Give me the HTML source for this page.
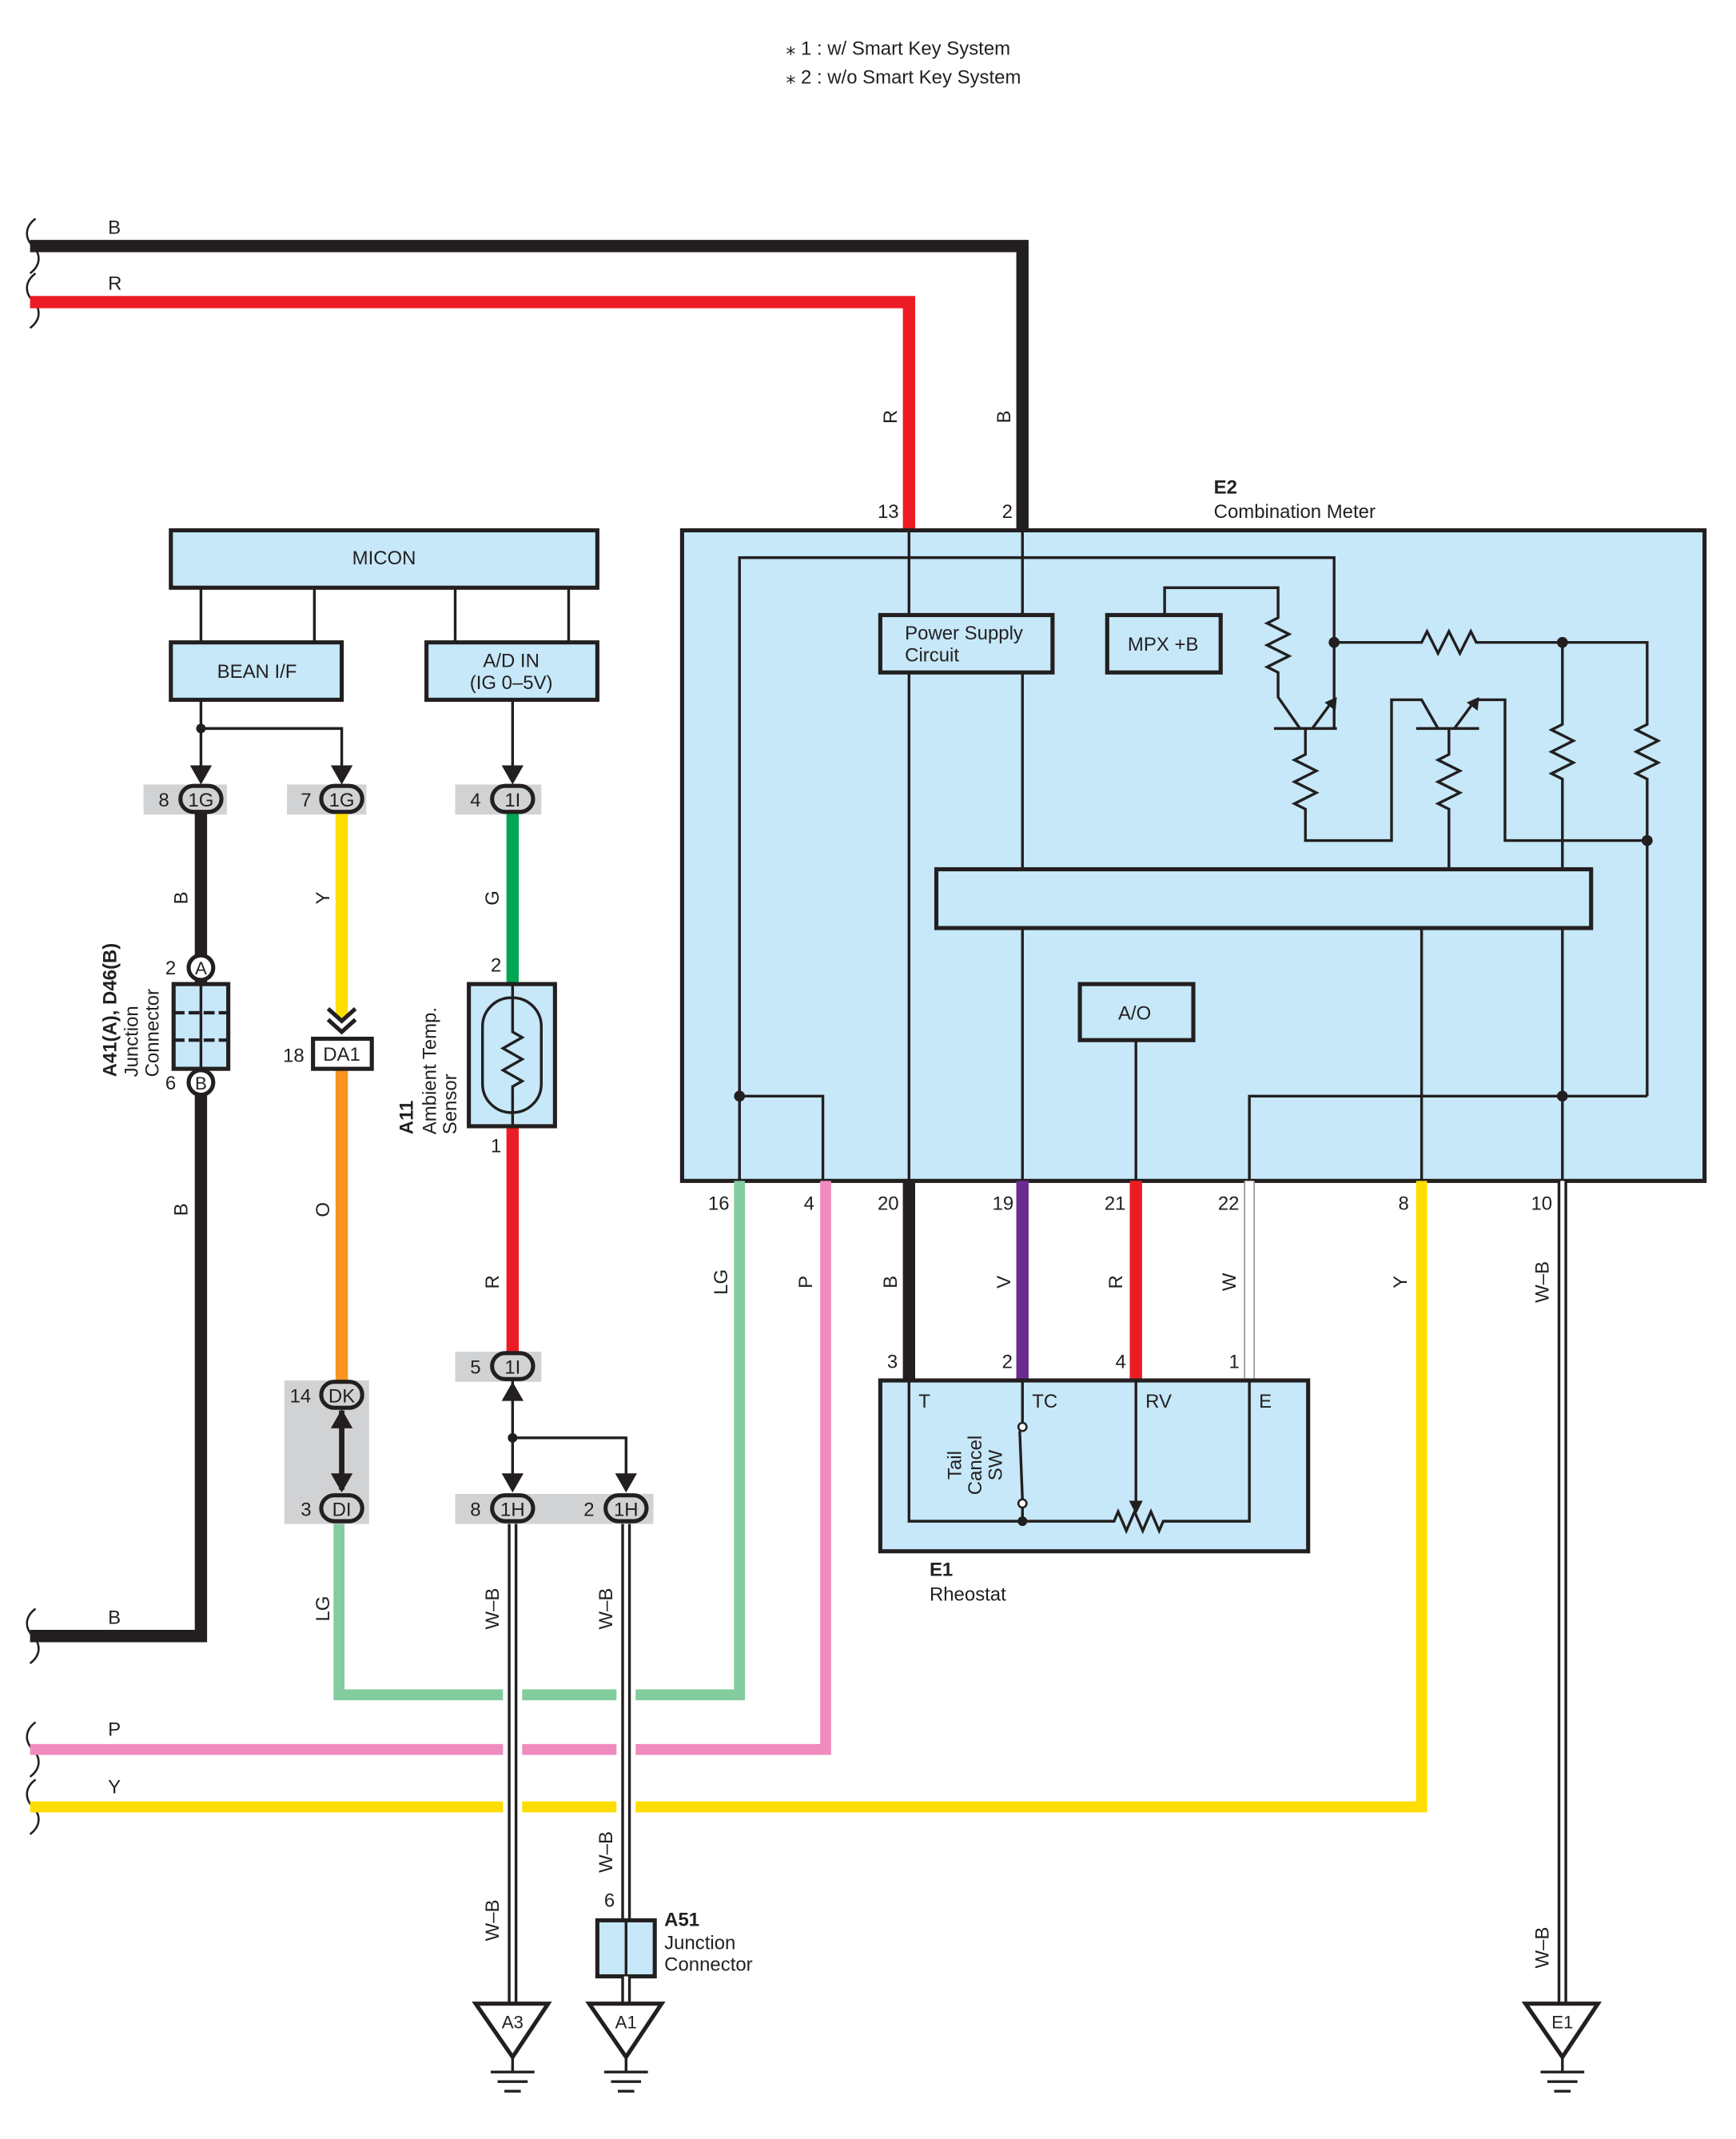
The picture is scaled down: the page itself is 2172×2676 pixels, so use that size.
<!DOCTYPE html>
<html><head><meta charset="utf-8"><style>
html,body{margin:0;padding:0;background:#fff;}
svg{display:block;}
text{font-family:"Liberation Sans",sans-serif;fill:#231f20;}
</style></head><body>
<svg width="2172" height="2676" viewBox="0 0 1270 1565" preserveAspectRatio="none" xmlns="http://www.w3.org/2000/svg">
<g font-size="14">
<text x="575" y="40">⁎ 1 : w/ Smart Key System</text>
<text x="575" y="61">⁎ 2 : w/o Smart Key System</text>
</g>
<g fill="none" stroke="#231f20" stroke-width="1.5">
<path d="M26,160 c-8,6 -8,14 -2,20 c6,6 6,14 -2,20"/>
<path d="M26,200 c-8,6 -8,14 -2,20 c6,6 6,14 -2,20"/>
<path d="M26,1177 c-8,6 -8,14 -2,20 c6,6 6,14 -2,20"/>
<path d="M26,1260 c-8,6 -8,14 -2,20 c6,6 6,14 -2,20"/>
<path d="M26,1302 c-8,6 -8,14 -2,20 c6,6 6,14 -2,20"/>
</g>
<g fill="none" stroke-linejoin="miter">
<path d="M22,180 H748 V388" stroke="#231f20" stroke-width="9"/>
<path d="M22,221 H665 V388" stroke="#ed1c24" stroke-width="9"/>
</g>
<g font-size="14">
<text x="79" y="171">B</text><text x="79" y="212">R</text>
<text x="79" y="1188">B</text><text x="79" y="1270">P</text><text x="79" y="1312">Y</text>
<text x="642" y="379">13</text><text x="733" y="379">2</text>
<text x="888" y="361" font-weight="bold">E2</text><text x="888" y="379">Combination Meter</text>
</g>
<rect x="499" y="388" width="748" height="476" fill="#c6e8f8" stroke="#231f20" stroke-width="3"/>
<g fill="none" stroke="#231f20" stroke-width="2">
<path d="M665,388 V864"/><path d="M748,388 V864"/>
<path d="M541,864 V408 H976 V533"/>
<path d="M852,450 V430 H935 V452 l-8,4 l16,8 l-16,8 l16,8 l-16,8 l8,4 V510 L951,533"/>
<path d="M932,533 H978"/>
<path d="M960,533 L974,514"/>
<path d="M955,533 V552 l-8,4 l16,8 l-16,8 l16,8 l-16,8 l8,4 V615 H1018 V512 H1040 L1052,533"/>
<path d="M1036,533 H1082"/>
<path d="M1064,533 L1078,514"/>
<path d="M1080,512 H1101 V615 H1205"/>
<path d="M1060,533 V552 l-8,4 l16,8 l-16,8 l16,8 l-16,8 l8,4 V636"/>
<path d="M976,470 H1040 l4,-8 l8,16 l8,-16 l8,16 l8,-16 l4,8 H1205 V530 l-8,4 l16,8 l-16,8 l16,8 l-16,8 l8,4 V802"/>
<path d="M1143,470 V530 l-8,4 l16,8 l-16,8 l16,8 l-16,8 l8,4 V636"/>
<path d="M1143,679 V864"/>
<path d="M1040,679 V864"/>
<path d="M914,864 V802 H1205"/>
<path d="M831,761 V864"/>
<path d="M541,802 H602 V864"/>
</g>
<g fill="#231f20">
<path d="M978,510 l-1,10 l-8,-6 z"/>
<path d="M1082,510 l-1,10 l-8,-6 z"/>
<circle cx="976" cy="470" r="4"/><circle cx="1143" cy="470" r="4"/>
<circle cx="1205" cy="615" r="4"/><circle cx="1143" cy="802" r="4"/><circle cx="541" cy="802" r="4"/>
</g>
<g stroke="#231f20" stroke-width="3" fill="#c6e8f8">
<rect x="644" y="450" width="126" height="42"/>
<rect x="810" y="450" width="83" height="42"/>
<rect x="685" y="636" width="479" height="43"/>
<rect x="790" y="720" width="83" height="41"/>
</g>
<g font-size="14">
<text x="662" y="468">Power Supply</text><text x="662" y="484">Circuit</text>
<text x="825" y="476">MPX +B</text>
<text x="818" y="746">A/O</text>
</g>
<g fill="none" stroke-linejoin="miter">
<path d="M541,864 V1240 H248 V1115" stroke="#82cc9e" stroke-width="8"/>
<path d="M604,864 V1280 H22" stroke="#f08bbd" stroke-width="8"/>
<path d="M1040,864 V1322 H22" stroke="#ffdd00" stroke-width="8"/>
<path d="M665,864 V1010" stroke="#231f20" stroke-width="9"/>
<path d="M748,864 V1010" stroke="#6b2c8f" stroke-width="9"/>
<path d="M831,864 V1010" stroke="#ed1c24" stroke-width="9"/>
<path d="M914,864 V1010" stroke="#999" stroke-width="8"/>
<path d="M914,864 V1010" stroke="#fff" stroke-width="6"/>
<path d="M1143,864 V1466" stroke="#231f20" stroke-width="7"/>
<path d="M1143,864 V1466" stroke="#fff" stroke-width="3"/>
</g>
<g font-size="14">
<text x="518" y="885">16</text><text x="588" y="885">4</text><text x="642" y="885">20</text><text x="726" y="885">19</text>
<text x="808" y="885">21</text><text x="891" y="885">22</text><text x="1023" y="885">8</text><text x="1120" y="885">10</text>
<text x="649" y="1001">3</text><text x="733" y="1001">2</text><text x="816" y="1001">4</text><text x="899" y="1001">1</text>
</g>
<g font-size="14">
<text transform="translate(532,938) rotate(-90)" text-anchor="middle">LG</text>
<text transform="translate(594,938) rotate(-90)" text-anchor="middle">P</text>
<text transform="translate(656,938) rotate(-90)" text-anchor="middle">B</text>
<text transform="translate(739,938) rotate(-90)" text-anchor="middle">V</text>
<text transform="translate(821,938) rotate(-90)" text-anchor="middle">R</text>
<text transform="translate(904,938) rotate(-90)" text-anchor="middle">W</text>
<text transform="translate(1029,938) rotate(-90)" text-anchor="middle">Y</text>
<text transform="translate(1133,938) rotate(-90)" text-anchor="middle">W–B</text>
<text transform="translate(1133,1425) rotate(-90)" text-anchor="middle">W–B</text>
<text transform="translate(656,305) rotate(-90)" text-anchor="middle">R</text>
<text transform="translate(739,305) rotate(-90)" text-anchor="middle">B</text>
</g>
<rect x="644" y="1010" width="313" height="125" fill="#c6e8f8" stroke="#231f20" stroke-width="3"/>
<g fill="none" stroke="#231f20" stroke-width="2">
<path d="M665,1010 V1113 H815 l3,-7 l6,14 l6,-14 l6,14 l6,-14 l6,14 l3,-7 H914 V1010"/>
<path d="M748,1010 V1041"/><path d="M746,1047 L748,1097"/><path d="M748,1103 V1113"/>
<path d="M831,1010 V1100"/>
</g>
<circle cx="748" cy="1044" r="3" fill="#fff" stroke="#231f20" stroke-width="1.5"/>
<circle cx="748" cy="1100" r="3" fill="#fff" stroke="#231f20" stroke-width="1.5"/>
<circle cx="748" cy="1113" r="3.5" fill="#231f20"/>
<path d="M826,1098 h10 l-5,10 z" fill="#231f20"/>
<g font-size="14">
<text x="672" y="1030">T</text><text x="755" y="1030">TC</text><text x="838" y="1030">RV</text><text x="921" y="1030">E</text>
<text x="680" y="1153" font-weight="bold">E1</text><text x="680" y="1171">Rheostat</text>
<text transform="translate(703,1072) rotate(-90)" text-anchor="middle">Tail</text>
<text transform="translate(718,1072) rotate(-90)" text-anchor="middle">Cancel</text>
<text transform="translate(733,1072) rotate(-90)" text-anchor="middle">SW</text>
</g>
<g stroke="#231f20" stroke-width="3" fill="#c6e8f8">
<rect x="125" y="388" width="312" height="42"/>
<rect x="125" y="470" width="125" height="42"/>
<rect x="312" y="470" width="125" height="42"/>
</g>
<g stroke="#231f20" stroke-width="2" fill="none">
<path d="M147,430 V470 M230,430 V470 M333,430 V470 M416,430 V470"/>
<path d="M147,512 V565 M147,533 H250 V565 M375,512 V565"/>
</g>
<circle cx="147" cy="533" r="3.5" fill="#231f20"/>
<g font-size="14">
<text x="281" y="413" text-anchor="middle">MICON</text>
<text x="188" y="496" text-anchor="middle">BEAN I/F</text>
<text x="374" y="488" text-anchor="middle">A/D IN</text><text x="374" y="504" text-anchor="middle">(IG 0–5V)</text>
</g>
<g fill="#d1d2d4">
<rect x="105" y="574" width="61" height="22"/>
<rect x="210" y="574" width="58" height="22"/>
<rect x="333" y="574" width="63" height="22"/>
<rect x="333" y="989" width="63" height="22"/>
<rect x="208" y="1010" width="62" height="105"/>
<rect x="333" y="1093" width="145" height="22"/>
</g>
<g fill="none">
<path d="M147,595 V1197 H22" stroke="#231f20" stroke-width="9"/>
<path d="M250,595 V745" stroke="#ffdd00" stroke-width="9"/>
<path d="M250,782 V1010" stroke="#f7941d" stroke-width="9"/>
<path d="M375,595 V720" stroke="#00a651" stroke-width="9"/>
<path d="M375,824 V989" stroke="#ed1c24" stroke-width="9"/>
</g>
<g fill="none">
<path d="M375,1225 V1335 M458,1225 V1335" stroke="#fff" stroke-width="14"/>
<path d="M375,1115 V1466" stroke="#231f20" stroke-width="7"/>
<path d="M375,1115 V1466" stroke="#fff" stroke-width="3"/>
<path d="M458,1115 V1405" stroke="#231f20" stroke-width="7"/>
<path d="M458,1115 V1405" stroke="#fff" stroke-width="3"/>
<path d="M375,1010 V1090 M375,1052 H458 V1090" stroke="#231f20" stroke-width="2"/>
<path d="M250,1032 V1090" stroke="#231f20" stroke-width="4"/>
</g>
<circle cx="375" cy="1052" r="3.5" fill="#231f20"/>
<g fill="#231f20">
<path d="M139,560 h16 l-8,14 z"/><path d="M242,560 h16 l-8,14 z"/><path d="M367,560 h16 l-8,14 z"/>
<path d="M367,1025 h16 l-8,-14 z"/>
<path d="M367,1078 h16 l-8,14 z"/><path d="M450,1078 h16 l-8,14 z"/>
<path d="M242,1045 h16 l-8,-14 z"/><path d="M242,1078 h16 l-8,14 z"/>
</g>
<g fill="none" stroke="#231f20" stroke-width="3">
<path d="M240,738 l10,9 l10,-9 M240,746 l10,9 l10,-9"/>
</g>
<g stroke="#231f20" stroke-width="3" fill="#d1d2d4">
<rect x="132" y="575" width="30" height="19" rx="9.5"/>
<rect x="235" y="575" width="30" height="19" rx="9.5"/>
<rect x="360" y="575" width="30" height="19" rx="9.5"/>
<rect x="360" y="990" width="30" height="19" rx="9.5"/>
<rect x="235" y="1011" width="30" height="19" rx="9.5"/>
<rect x="235" y="1094" width="30" height="19" rx="9.5"/>
<rect x="360" y="1094" width="30" height="19" rx="9.5"/>
<rect x="443" y="1094" width="30" height="19" rx="9.5"/>
</g>
<g font-size="14">
<text x="147" y="590" text-anchor="middle">1G</text><text x="250" y="590" text-anchor="middle">1G</text>
<text x="375" y="590" text-anchor="middle">1I</text><text x="375" y="1005" text-anchor="middle">1I</text>
<text x="250" y="1026" text-anchor="middle">DK</text><text x="250" y="1109" text-anchor="middle">DI</text>
<text x="375" y="1109" text-anchor="middle">1H</text><text x="458" y="1109" text-anchor="middle">1H</text>
<text x="116" y="590">8</text><text x="220" y="590">7</text><text x="344" y="590">4</text><text x="344" y="1005">5</text>
<text x="212" y="1026">14</text><text x="220" y="1109">3</text><text x="344" y="1109">8</text><text x="427" y="1109">2</text>
<text x="207" y="777">18</text><text x="121" y="713">2</text><text x="121" y="797">6</text>
<text x="359" y="711">2</text><text x="359" y="843">1</text><text x="442" y="1395">6</text>
</g>
<circle cx="147" cy="708" r="9" fill="#fff" stroke="#231f20" stroke-width="3"/>
<circle cx="147" cy="792" r="9" fill="#fff" stroke="#231f20" stroke-width="3"/>
<rect x="127" y="720" width="40" height="62" fill="#c6e8f8" stroke="#231f20" stroke-width="3"/>
<g stroke="#231f20" stroke-width="2" fill="none">
<path d="M147,720 V782"/><path d="M127,741 H167 M127,761 H167" stroke-dasharray="8,3" stroke-width="2.5"/>
</g>
<g font-size="13"><text x="147" y="713" text-anchor="middle">A</text><text x="147" y="797" text-anchor="middle">B</text></g>
<rect x="229" y="760" width="43" height="22" fill="#fff" stroke="#231f20" stroke-width="3"/>
<text x="250" y="776" font-size="14" text-anchor="middle">DA1</text>
<rect x="343" y="720" width="63" height="104" fill="#c6e8f8" stroke="#231f20" stroke-width="3"/>
<rect x="353" y="730" width="43" height="84" rx="21" fill="none" stroke="#231f20" stroke-width="2"/>
<path d="M375,720 V755 l7,4 l-14,8 l14,8 l-14,8 l14,8 l-7,4 V824" fill="none" stroke="#231f20" stroke-width="2"/>
<g font-size="14">
<text transform="translate(137,657) rotate(-90)" text-anchor="middle">B</text>
<text transform="translate(137,885) rotate(-90)" text-anchor="middle">B</text>
<text transform="translate(241,657) rotate(-90)" text-anchor="middle">Y</text>
<text transform="translate(241,885) rotate(-90)" text-anchor="middle">O</text>
<text transform="translate(241,1177) rotate(-90)" text-anchor="middle">LG</text>
<text transform="translate(365,657) rotate(-90)" text-anchor="middle">G</text>
<text transform="translate(365,938) rotate(-90)" text-anchor="middle">R</text>
<text transform="translate(365,1177) rotate(-90)" text-anchor="middle">W–B</text>
<text transform="translate(365,1405) rotate(-90)" text-anchor="middle">W–B</text>
<text transform="translate(448,1177) rotate(-90)" text-anchor="middle">W–B</text>
<text transform="translate(448,1355) rotate(-90)" text-anchor="middle">W–B</text>
<text transform="translate(85,788) rotate(-90)" font-weight="bold">A41(A), D46(B)</text>
<text transform="translate(101,788) rotate(-90)">Junction</text>
<text transform="translate(116,788) rotate(-90)">Connector</text>
<text transform="translate(302,830) rotate(-90)" font-weight="bold">A11</text>
<text transform="translate(319,830) rotate(-90)">Ambient Temp.</text>
<text transform="translate(334,830) rotate(-90)">Sensor</text>
</g>
<rect x="437" y="1405" width="42" height="41" fill="#c6e8f8" stroke="#231f20" stroke-width="3"/>
<path d="M458,1405 V1446" stroke="#231f20" stroke-width="2"/>
<path d="M458,1446 V1466" stroke="#231f20" stroke-width="7"/><path d="M458,1446 V1466" stroke="#fff" stroke-width="3"/>
<g font-size="14"><text x="486" y="1409" font-weight="bold">A51</text><text x="486" y="1426">Junction</text><text x="486" y="1442">Connector</text></g>
<g fill="#fff" stroke="#231f20" stroke-width="3">
<path d="M348,1466 H401 L375,1505 Z"/>
<path d="M431,1466 H484 L458,1505 Z"/>
<path d="M1116,1466 H1169 L1143,1505 Z"/>
</g>
<g stroke="#231f20" stroke-width="2">
<path d="M375,1505 V1515 M359,1516 H391 M364,1523 H386 M369,1530 H381"/>
<path d="M458,1505 V1515 M442,1516 H474 M447,1523 H469 M452,1530 H464"/>
<path d="M1143,1505 V1515 M1127,1516 H1159 M1132,1523 H1154 M1137,1530 H1149"/>
</g>
<g font-size="13"><text x="375" y="1484" text-anchor="middle">A3</text><text x="458" y="1484" text-anchor="middle">A1</text><text x="1143" y="1484" text-anchor="middle">E1</text></g>
</svg>
</body></html>
